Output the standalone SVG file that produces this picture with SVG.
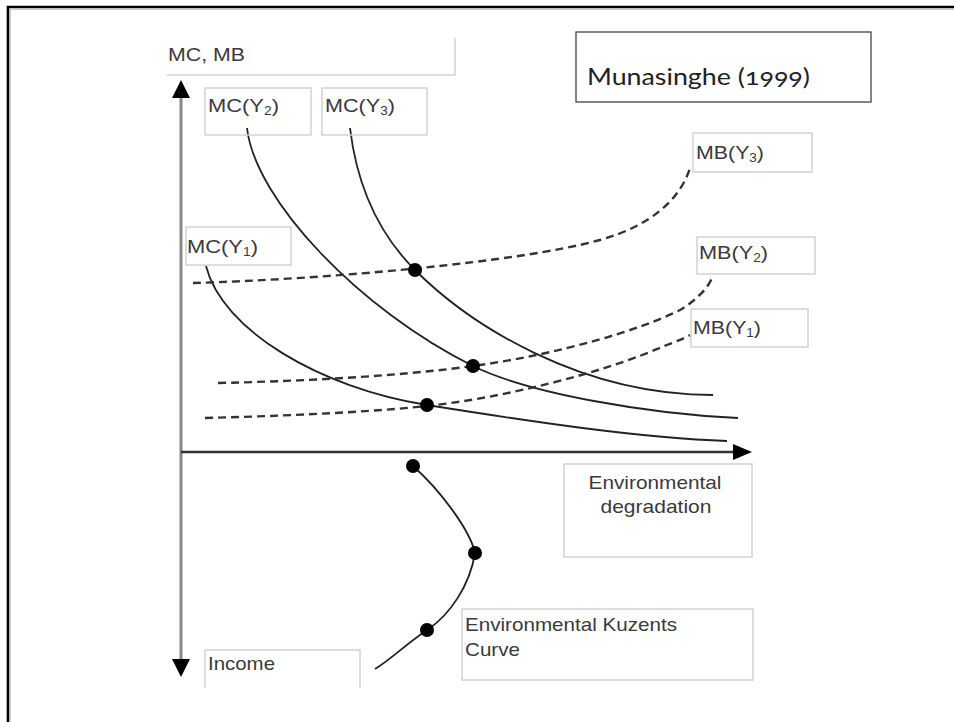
<svg xmlns="http://www.w3.org/2000/svg" width="954" height="722" viewBox="0 0 954 722">
<style>
.lbl{font-family:"Liberation Sans",Arial,sans-serif;font-size:19px;fill:#3a3a3a}
.sub{font-size:12px}
.box{fill:none;stroke:#d2d2d2;stroke-width:1.5}
.mc{fill:none;stroke:#222;stroke-width:1.8}
.mb{fill:none;stroke:#333;stroke-width:2.4;stroke-dasharray:8 5}
.dot{fill:#000}
.title{font-family:Lato,"Noto Sans",sans-serif;font-size:24px;fill:#222;font-variant-numeric:oldstyle-nums}
</style>
<rect x="0" y="0" width="954" height="722" fill="#fff"/>
<path d="M8,722 V7 H954" fill="none" stroke="#000" stroke-width="2.6"/>
<path d="M10.5,722 V9.5 H954" fill="none" stroke="#ccc" stroke-width="1"/>

<g id="title">
<rect x="576" y="32" width="295" height="70" fill="#fff" stroke="#444" stroke-width="1.3"/>
<text class="title" x="587" y="85" textLength="223" lengthAdjust="spacingAndGlyphs">Munasinghe (1999)</text>
</g>

<g id="axes">
<line x1="181" y1="96" x2="181" y2="660" stroke="#888" stroke-width="3"/>
<polygon points="181,80 172,98 190,98" fill="#000"/>
<polygon points="181,677 172,659 190,659" fill="#000"/>
<line x1="181" y1="452" x2="735" y2="452" stroke="#333" stroke-width="2.5"/>
<polygon points="752,452 733,444 733,460" fill="#000"/>
</g>

<g id="connectors">
<path id="mc1" class="mc" d="M206,266 C222,330 320,388 427,405 S640,438 727,441"/>
<path id="mc2" class="mc" d="M247,128 C255,200 360,310 473,366 C530,394 650,414 738,418"/>
<path id="mc3" class="mc" d="M350,128 C358,195 385,240 415,270 C470,325 580,395 713,395"/>
<path id="mb3" class="mb" d="M193,283 C330,279 520,262 600,240 C650,226 680,200 690,168"/>
<path id="mb2" class="mb" d="M218,383 C350,380 430,372 473,366 C560,354 640,330 680,310 C700,298 710,285 713,275"/>
<path id="mb1" class="mb" d="M205,418 C320,415 390,410 427,406 C510,397 600,372 650,352 C668,344 682,340 690,335"/>
<path id="ekc" class="mc" d="M413,466 C440,490 470,530 475,553 C470,585 450,615 427,630 C405,645 390,660 375,669"/>
</g>

<g id="dots">
<circle class="dot" cx="415" cy="270" r="7"/>
<circle class="dot" cx="473" cy="366" r="7"/>
<circle class="dot" cx="427" cy="405" r="7"/>
<circle class="dot" cx="413" cy="466" r="7"/>
<circle class="dot" cx="475" cy="553" r="7"/>
<circle class="dot" cx="427" cy="630" r="7"/>
</g>

<g id="label-mcmb">
<path class="box" d="M167,75 H455 V38"/>
<text class="lbl" x="168" y="61" textLength="77" lengthAdjust="spacingAndGlyphs">MC, MB</text>
</g>
<g id="label-mcy2">
<rect class="box" x="205" y="88" width="106" height="47"/>
<text class="lbl" x="208" y="112" textLength="71" lengthAdjust="spacingAndGlyphs">MC(Y<tspan class="sub" dy="3">2</tspan><tspan dy="-3">)</tspan></text>
</g>
<g id="label-mcy3">
<rect class="box" x="322" y="88" width="105" height="47"/>
<text class="lbl" x="325" y="112" textLength="70" lengthAdjust="spacingAndGlyphs">MC(Y<tspan class="sub" dy="3">3</tspan><tspan dy="-3">)</tspan></text>
</g>
<g id="label-mcy1">
<rect class="box" x="186" y="227" width="105" height="38"/>
<text class="lbl" x="187" y="253" textLength="71" lengthAdjust="spacingAndGlyphs">MC(Y<tspan class="sub" dy="3">1</tspan><tspan dy="-3">)</tspan></text>
</g>
<g id="label-mby3">
<rect class="box" x="693" y="133" width="119" height="39"/>
<text class="lbl" x="696" y="159" textLength="68" lengthAdjust="spacingAndGlyphs">MB(Y<tspan class="sub" dy="3">3</tspan><tspan dy="-3">)</tspan></text>
</g>
<g id="label-mby2">
<rect class="box" x="697" y="237" width="118" height="37"/>
<text class="lbl" x="699" y="259" textLength="69" lengthAdjust="spacingAndGlyphs">MB(Y<tspan class="sub" dy="3">2</tspan><tspan dy="-3">)</tspan></text>
</g>
<g id="label-mby1">
<rect class="box" x="691" y="309" width="117" height="38"/>
<text class="lbl" x="693" y="334" textLength="68" lengthAdjust="spacingAndGlyphs">MB(Y<tspan class="sub" dy="3">1</tspan><tspan dy="-3">)</tspan></text>
</g>
<g id="label-degradation">
<rect class="box" x="564" y="464" width="188" height="93"/>
<text class="lbl" x="655" y="489" text-anchor="middle" textLength="133" lengthAdjust="spacingAndGlyphs">Environmental</text>
<text class="lbl" x="656" y="513" text-anchor="middle" textLength="111" lengthAdjust="spacingAndGlyphs">degradation</text>
</g>
<g id="label-ekc">
<rect class="box" x="462" y="609" width="291" height="71"/>
<text class="lbl" x="465" y="631" textLength="212" lengthAdjust="spacingAndGlyphs">Environmental Kuzents</text>
<text class="lbl" x="465" y="656" textLength="55" lengthAdjust="spacingAndGlyphs">Curve</text>
</g>
<g id="label-income">
<path class="box" d="M205,688 V650 H360 V688"/>
<text class="lbl" x="208" y="670" textLength="67" lengthAdjust="spacingAndGlyphs">Income</text>
</g>
</svg>
